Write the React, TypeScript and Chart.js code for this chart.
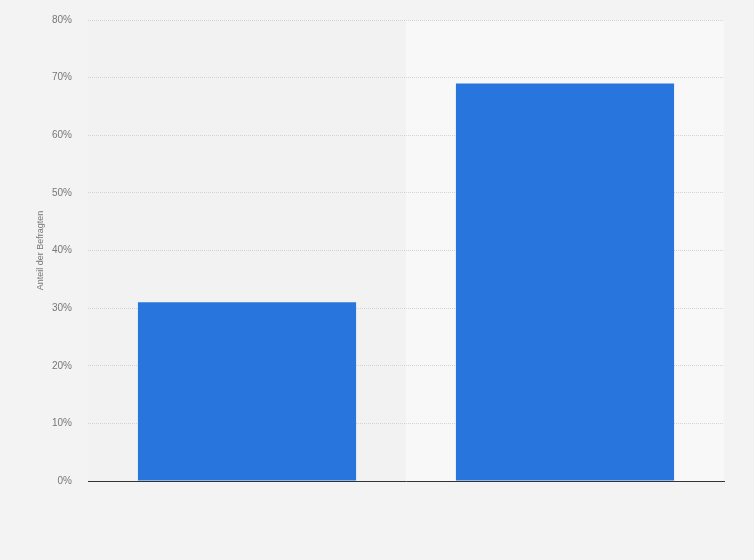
import React, { useEffect, useRef } from "react";
import { Chart, registerables } from "chart.js";

Chart.register(...registerables);

const categories = ["Kategorie A", "Kategorie B"];
const values = [31, 69];
const yTicks = [0, 10, 20, 30, 40, 50, 60, 70, 80];
const yTitle = "Anteil der Befragten";

const bandPlugin = {
  id: "bands",
  beforeDraw(chart: any) {
    const { ctx, chartArea } = chart;
    const x = chart.scales.x;
    const n = categories.length;
    ctx.save();
    for (let i = 0; i < n; i++) {
      const left = i === 0 ? chartArea.left : (x.getPixelForValue(i - 1) + x.getPixelForValue(i)) / 2;
      const right = i === n - 1 ? chartArea.right : (x.getPixelForValue(i) + x.getPixelForValue(i + 1)) / 2;
      ctx.fillStyle = i % 2 === 0 ? "#f2f2f2" : "#f8f8f8";
      ctx.fillRect(left, chartArea.top, right - left, chartArea.bottom - chartArea.top);
    }
    ctx.restore();
  },
};

export default function App() {
  const ref = useRef<HTMLCanvasElement | null>(null);
  useEffect(() => {
    document.body.style.margin = "0";
    if (!ref.current) return;
    const chart = new Chart(ref.current, {
      type: "bar",
      data: {
        labels: categories,
        datasets: [
          {
            data: values,
            backgroundColor: "#2876dd",
            barPercentage: 0.686,
            categoryPercentage: 1,
          },
        ],
      },
      options: {
        animation: false,
        responsive: false,
        maintainAspectRatio: false,
        layout: { padding: { left: 0, top: 20, right: 30, bottom: 71 } },
        plugins: { legend: { display: false }, tooltip: { enabled: false } },
        scales: {
          x: {
            grid: { display: false },
            ticks: { display: false },
            border: { display: true, color: "#333333", width: 1 },
          },
          y: {
            min: 0,
            max: 80,
            afterFit: (scale: any) => {
              scale.width = 88;
              scale.paddingTop = 0;
              scale.paddingBottom = 0;
            },
            afterBuildTicks: (scale: any) => {
              scale.ticks = yTicks.map((v) => ({ value: v }));
            },
            ticks: {
              padding: 16,
              color: "#777777",
              font: { family: "Liberation Sans, Arial, sans-serif", size: 10 },
              callback: (v: any) => v + "%",
            },
            grid: { color: "#d4d4d4", lineWidth: 1, drawTicks: false },
            border: { display: false, dash: [1, 1] },
            title: {
              display: true,
              text: yTitle,
              color: "#777777",
              font: { family: "Liberation Sans, Arial, sans-serif", size: 9 },
              padding: { top: 35, bottom: 0 },
            },
          },
        },
      },
      plugins: [bandPlugin],
    });
    return () => chart.destroy();
  }, []);
  return (
    <div style={{ width: 754, height: 560, background: "#f3f3f3" }}>
      <canvas ref={ref} width={754} height={560} style={{ display: "block" }} />
    </div>
  );
}
